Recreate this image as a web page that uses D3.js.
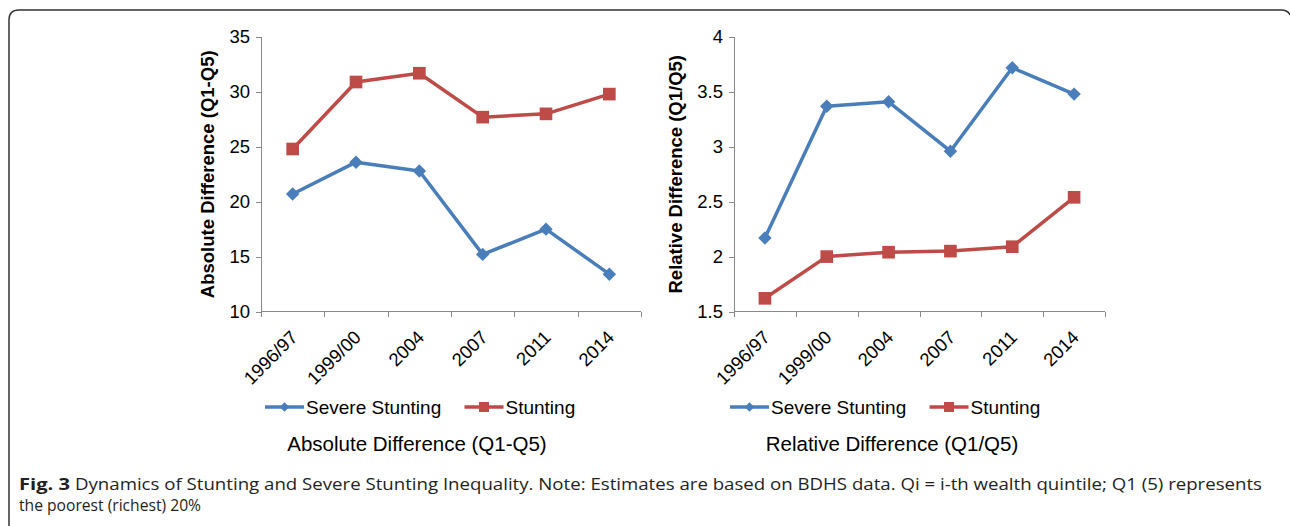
<!DOCTYPE html>
<html>
<head>
<meta charset="utf-8">
<script src="https://cdn.jsdelivr.net/npm/d3@7"></script>
<style>
  body { margin: 0; background: #fff; }
  svg { display: block; }
  .axis path, .axis line { stroke: #898989; shape-rendering: crispEdges; }
  .axis text { font-family: "Liberation Sans", Arial, sans-serif; font-size: 18.5px; fill: #000; }
</style>
</head>
<body>
<div id="chart"></div>
<script>
var years = ['1996/97', '1999/00', '2004', '2007', '2011', '2014'];
var seriesNames = ['Severe Stunting', 'Stunting'];

var absSevere = [20.7, 23.6, 22.8, 15.2, 17.5, 13.4];
var absStunting = [24.8, 30.9, 31.7, 27.7, 28.0, 29.8];
var relSevere = [2.17, 3.37, 3.41, 2.96, 3.72, 3.48];
var relStunting = [1.62, 2.00, 2.04, 2.05, 2.09, 2.54];

var absTicks = [10, 15, 20, 25, 30, 35];
var relTicks = [1.5, 2, 2.5, 3, 3.5, 4];

var blue = '#4a7ebb',
    red = '#be4b48',
    W = 1290, H = 526;

var svg = d3.select('#chart').append('svg')
    .attr('width', W)
    .attr('height', H);

// frame around the figure
svg.append('path')
    .attr('d', 'M9,' + H + ' L9,20 Q9,10 19,10 L1281,10 Q1288,10 1290,15')
    .attr('fill', 'none')
    .attr('stroke', '#333')
    .attr('stroke-width', 1.5);

var panels = [
  { x0: 261, x1: 641, yTitle: 'Absolute Difference (Q1-Q5)', title: 'Absolute Difference (Q1-Q5)',
    domain: [10, 35], ticks: absTicks, fmt: d3.format('d'), severe: absSevere, stunting: absStunting,
    titleX: 214, legendX: 265, titleCx: 417 },
  { x0: 734, x1: 1105, yTitle: 'Relative Difference (Q1/Q5)', title: 'Relative Difference (Q1/Q5)',
    domain: [1.5, 4], ticks: relTicks, fmt: function(d){ return String(d); }, severe: relSevere, stunting: relStunting,
    titleX: 682, legendX: 730, titleCx: 892 }
];

var plotTop = 37, plotBottom = 311.5;

panels.forEach(function(p){
  var g = svg.append('g');

  var y = d3.scaleLinear().domain(p.domain).range([plotBottom, plotTop]);
  var x = d3.scaleBand().domain(years).range([p.x0, p.x1]);
  var xb = d3.scaleLinear().domain([0, years.length]).range([p.x0, p.x1]);

  g.append('g')
      .attr('class', 'axis')
      .attr('transform', 'translate(' + p.x0 + ',0)')
      .call(d3.axisLeft(y).tickValues(p.ticks).tickFormat(p.fmt).tickSize(5).tickPadding(6))
      .call(function(a){ a.select('.domain').attr('d', 'M-5,' + plotTop + 'H0V' + plotBottom); });

  g.append('g')
      .attr('class', 'axis')
      .attr('transform', 'translate(0,' + plotBottom + ')')
      .call(d3.axisBottom(xb).tickValues(d3.range(years.length + 1)).tickFormat('').tickSize(5))
      .call(function(a){ a.select('.domain').attr('d', 'M' + p.x0 + ',0H' + p.x1); });

  // rotated category labels
  g.selectAll('.xlab')
      .data(years)
    .enter().append('text')
      .attr('class', 'xlab')
      .attr('transform', function(d){
        return 'translate(' + (x(d) + x.bandwidth() / 2 + 6) + ',' + (plotBottom + 27) + ') rotate(-45)';
      })
      .attr('text-anchor', 'end')
      .style('font-family', '"Liberation Sans", Arial, sans-serif')
      .style('font-size', '18.5px')
      .text(function(d){ return d; });

  // y axis title
  g.append('text')
      .attr('transform', 'translate(' + p.titleX + ',' + ((plotTop + plotBottom) / 2) + ') rotate(-90)')
      .attr('text-anchor', 'middle')
      .style('font-family', '"Liberation Sans", Arial, sans-serif')
      .style('font-size', '18.5px')
      .style('font-weight', 'bold')
      .text(p.yTitle);

  var line = d3.line()
      .x(function(d, i){ return x(years[i]) + x.bandwidth() / 2; })
      .y(function(d){ return y(d); });

  var series = [
    { name: seriesNames[0], values: p.severe, color: blue, rot: 45, size: 90, lsize: 45 },
    { name: seriesNames[1], values: p.stunting, color: red, rot: 0, size: 160, lsize: 100 }
  ];

  series.forEach(function(s){
    g.append('path')
        .datum(s.values)
        .attr('fill', 'none')
        .attr('stroke', s.color)
        .attr('stroke-width', 3.5)
        .attr('stroke-linejoin', 'round')
        .attr('d', line);

    g.selectAll(null)
        .data(s.values)
      .enter().append('path')
        .attr('transform', function(d, i){
          return 'translate(' + (x(years[i]) + x.bandwidth() / 2) + ',' + y(d) + ') rotate(' + s.rot + ')';
        })
        .attr('d', d3.symbol().type(d3.symbolSquare).size(s.size))
        .attr('fill', s.color);
  });

  // legend
  var lg = g.append('g').attr('transform', 'translate(' + p.legendX + ',407)');
  series.forEach(function(s, i){
    var item = lg.append('g').attr('transform', 'translate(' + (i * 199.5) + ',0)');
    item.append('line')
        .attr('x1', 0).attr('x2', 39)
        .attr('stroke', s.color)
        .attr('stroke-width', 3.5);
    item.append('path')
        .attr('transform', 'translate(19.5,0) rotate(' + s.rot + ')')
        .attr('d', d3.symbol().type(d3.symbolSquare).size(s.lsize))
        .attr('fill', s.color);
    item.append('text')
        .attr('x', 41)
        .attr('y', 7)
        .style('font-family', '"Liberation Sans", Arial, sans-serif')
        .style('font-size', '19px')
        .text(s.name);
  });

  // panel title
  g.append('text')
      .attr('x', p.titleCx)
      .attr('y', 451)
      .attr('text-anchor', 'middle')
      .style('font-family', '"Liberation Sans", Arial, sans-serif')
      .style('font-size', '20.5px')
      .text(p.title);
});

// caption
var capStyle = function(t){
  t.style('font-family', '"Open Sans", sans-serif')
   .style('font-size', '16px')
   .style('fill', '#231f20')
   .attr('lengthAdjust', 'spacingAndGlyphs');
};

svg.append('text')
    .attr('x', 19).attr('y', 490)
    .attr('textLength', 51)
    .call(capStyle)
    .style('font-weight', 'bold')
    .text('Fig. 3');

svg.append('text')
    .attr('x', 75).attr('y', 490)
    .attr('textLength', 1187)
    .call(capStyle)
    .text('Dynamics of Stunting and Severe Stunting Inequality. Note: Estimates are based on BDHS data. Qi = i-th wealth quintile; Q1 (5) represents');

svg.append('text')
    .attr('x', 19).attr('y', 511)
    .attr('textLength', 182)
    .call(capStyle)
    .text('the poorest (richest) 20%');
</script>
</body>
</html>
